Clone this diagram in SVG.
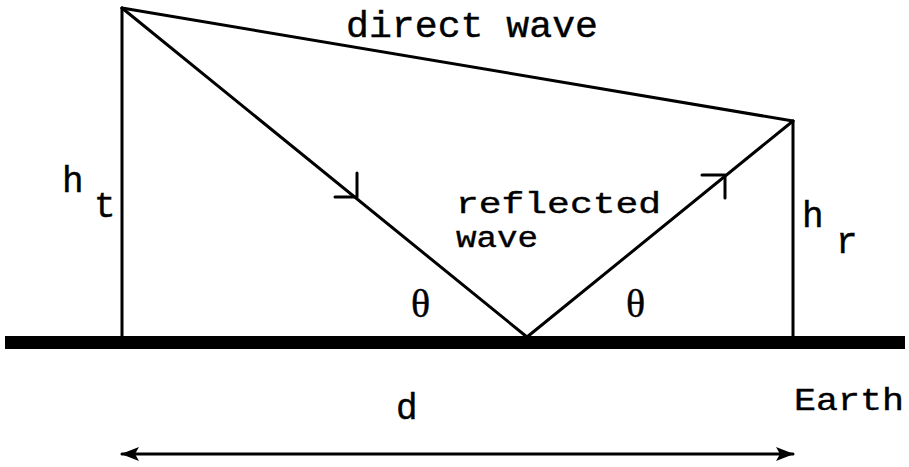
<svg xmlns="http://www.w3.org/2000/svg" width="909" height="467" viewBox="0 0 909 467">
<style>
.ln{stroke:#000;stroke-width:3;fill:none;stroke-linecap:round;stroke-linejoin:round}
.t{font-family:"Liberation Mono","Courier New",monospace;fill:#000;stroke:#000;stroke-width:0.4}
.g{font-family:"Liberation Serif","Times New Roman",serif;fill:#000;stroke:#000;stroke-width:0.4}
</style>
<defs>
<marker id="ah" viewBox="0 0 18 14" refX="17" refY="7" markerWidth="18" markerHeight="14" markerUnits="userSpaceOnUse" orient="auto-start-reverse">
<path d="M0,0 L18,7 L0,14 L4,7 Z" fill="#000"/>
</marker>
</defs>
<rect x="0" y="0" width="909" height="467" fill="#fff"/>
<g id="ground"><rect x="5" y="336" width="900" height="13" fill="#000"/></g>
<g id="transmitter"><line class="ln" x1="122" y1="8" x2="122" y2="338"/></g>
<g id="receiver"><line class="ln" x1="793" y1="121" x2="793" y2="338"/></g>
<g id="connectors">
<line id="direct" class="ln" x1="122" y1="8" x2="793" y2="121"/>
<polyline id="reflected" class="ln" points="122,8 527,337 793,121"/>
<polyline class="ln" points="335,197 357,197 357,173"/>
<polyline class="ln" points="702,175 725,175 725,198"/>
<line id="dist" class="ln" x1="122" y1="454" x2="793" y2="454" marker-start="url(#ah)" marker-end="url(#ah)"/>
</g>
<g id="labels">
<text class="t" x="346" y="37" font-size="36" textLength="252" lengthAdjust="spacingAndGlyphs">direct wave</text>
<text class="t" x="456" y="213" font-size="30" textLength="205" lengthAdjust="spacingAndGlyphs">reflected</text>
<text class="t" x="456" y="247" font-size="30" textLength="82" lengthAdjust="spacingAndGlyphs">wave</text>
<text class="t" x="62" y="192" font-size="36">h</text>
<text class="t" x="94" y="217" font-size="36">t</text>
<text class="t" x="802" y="227" font-size="36">h</text>
<text class="t" x="836" y="253" font-size="36">r</text>
<text class="g" x="411" y="317" font-size="40">θ</text>
<text class="g" x="626" y="317" font-size="40">θ</text>
<text class="t" x="396" y="419" font-size="36">d</text>
<text class="t" x="794" y="410" font-size="32" textLength="110" lengthAdjust="spacingAndGlyphs">Earth</text>
</g>
</svg>
